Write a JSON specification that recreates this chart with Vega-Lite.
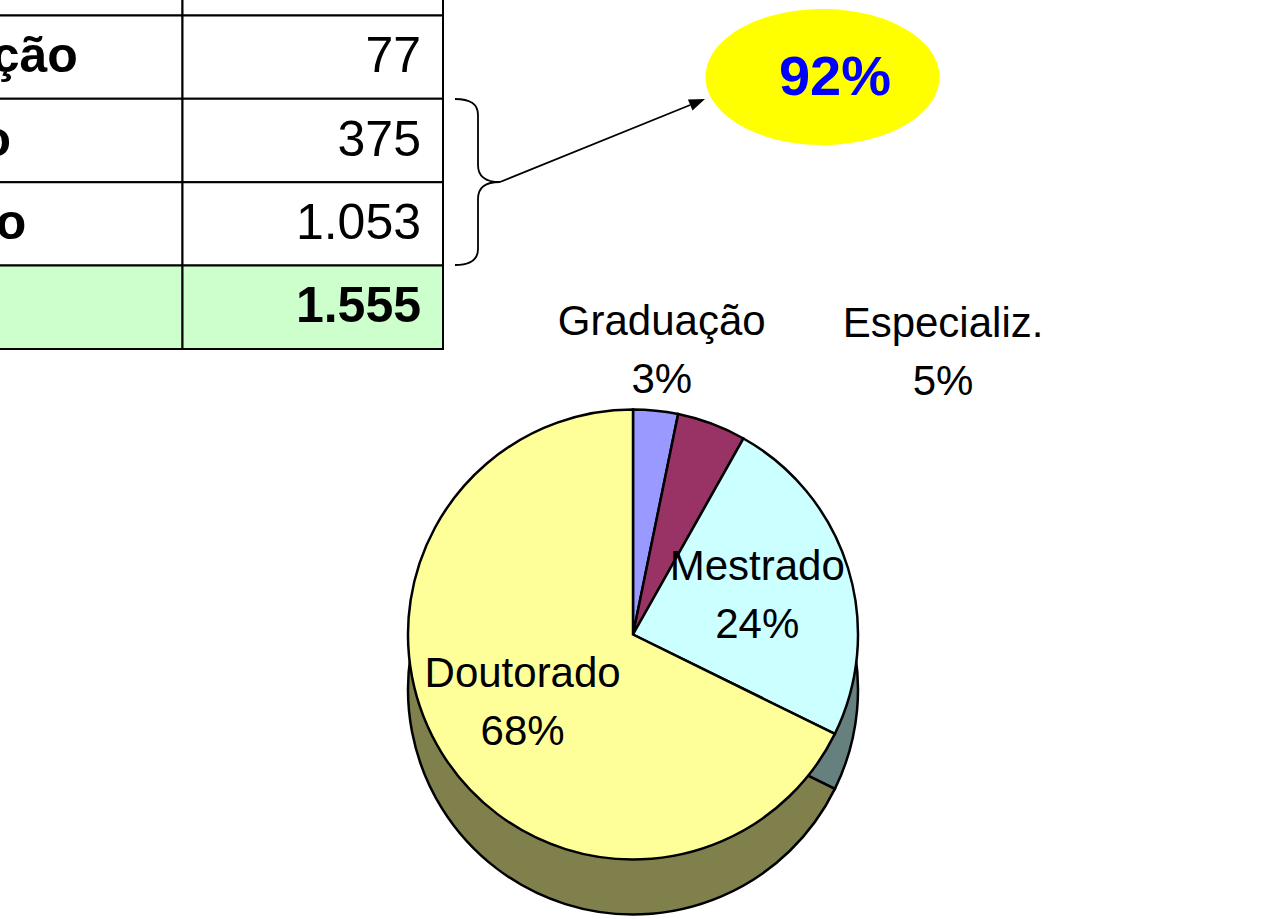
{
  "$schema": "https://vega.github.io/schema/vega-lite/v6.json",
  "padding": 0,
  "spacing": 0,
  "bounds": "flush",
  "config": {
    "view": {"stroke": null},
    "font": "Liberation Sans",
    "locale": {"number": {"decimal": ",", "thousands": ".", "grouping": [3], "currency": ["R$ ", ""]}}
  },
  "datasets": {
    "niveis": [
      {"nivel": "Graduação", "rotulo": "Graduação", "n": 50, "pct": 0.03},
      {"nivel": "Especialização", "rotulo": "Especializ.", "n": 77, "pct": 0.05},
      {"nivel": "Mestrado", "rotulo": "Mestrado", "n": 375, "pct": 0.24},
      {"nivel": "Doutorado", "rotulo": "Doutorado", "n": 1053, "pct": 0.68},
      {"nivel": "Total", "rotulo": "Total", "n": 1555, "pct": 1}
    ],
    "destaque": [{"texto": "92%"}]
  },
  "vconcat": [
    {
      "width": 940,
      "height": 350,
      "layer": [
        {
          "data": {"name": "niveis"},
          "encoding": {
            "y": {
              "field": "nivel", "type": "nominal",
              "scale": {"domain": ["Graduação", "Especialização", "Mestrado", "Doutorado", "Total"], "range": [-68, 349], "paddingInner": 0, "paddingOuter": 0},
              "axis": null
            }
          },
          "layer": [
            {
              "mark": {"type": "rect", "stroke": "black", "strokeWidth": 2, "clip": true},
              "encoding": {
                "x": {"datum": "nome", "type": "nominal", "scale": {"domain": ["nome", "valor"], "range": [-78, 443], "paddingInner": 0, "paddingOuter": 0}, "axis": null},
                "fill": {"condition": {"test": "datum.nivel === 'Total'", "value": "#CCFFCC"}, "value": "#FFFFFF"}
              }
            },
            {
              "mark": {"type": "rect", "stroke": "black", "strokeWidth": 2, "clip": true},
              "encoding": {
                "x": {"datum": "valor", "type": "nominal"},
                "fill": {"condition": {"test": "datum.nivel === 'Total'", "value": "#CCFFCC"}, "value": "#FFFFFF"}
              }
            },
            {
              "mark": {"type": "text", "fontSize": 50, "fontWeight": "bold", "align": "center", "baseline": "middle", "dx": -22, "clip": true, "color": "black"},
              "encoding": {
                "x": {"datum": "nome", "type": "nominal", "bandPosition": 0},
                "text": {"field": "nivel", "type": "nominal"}
              }
            },
            {
              "transform": [{"filter": "datum.nivel !== 'Total'"}],
              "mark": {"type": "text", "fontSize": 50, "align": "right", "baseline": "middle", "dx": -22, "clip": true, "color": "black"},
              "encoding": {
                "x": {"datum": "valor", "type": "nominal", "bandPosition": 1},
                "text": {"field": "n", "type": "quantitative", "format": ","}
              }
            },
            {
              "transform": [{"filter": "datum.nivel === 'Total'"}],
              "mark": {"type": "text", "fontSize": 50, "fontWeight": "bold", "align": "right", "baseline": "middle", "dx": -22, "clip": true, "color": "black"},
              "encoding": {
                "x": {"datum": "valor", "type": "nominal", "bandPosition": 1},
                "text": {"field": "n", "type": "quantitative", "format": ","}
              }
            }
          ]
        },
        {
          "data": {"name": "destaque"},
          "mark": {"type": "point", "shape": "M-15,-76 C0,-76 8,-71 8,-60 L8,-10 C8,1 15,7 30,7 C15,7 8,13 8,24 L8,74 C8,85 0,90 -15,90 M30,7 L220.2,-70", "size": 4, "filled": false, "stroke": "black", "strokeWidth": 1.8, "opacity": 1}
        },
        {
          "data": {"name": "destaque"},
          "mark": {"type": "point", "shape": "M235,-76 L222.5,-64.4 L217.9,-75.6 Z", "size": 4, "filled": true, "color": "black", "opacity": 1}
        },
        {
          "data": {"name": "destaque"},
          "mark": {"type": "point", "shape": "M235.5,-98 A117,68 0 1,1 469.5,-98 A117,68 0 1,1 235.5,-98 Z", "size": 4, "filled": true, "color": "#FFFF00", "opacity": 1, "strokeWidth": 0}
        },
        {
          "data": {"name": "destaque"},
          "mark": {"type": "text", "fontSize": 56, "fontWeight": "bold", "color": "#0000FF", "dx": 365, "dy": -97, "baseline": "middle", "align": "center"},
          "encoding": {"text": {"field": "texto", "type": "nominal"}}
        }
      ]
    },
    {
      "width": 1266,
      "height": 569,
      "data": {"name": "niveis"},
      "transform": [{"filter": "datum.nivel !== 'Total'"}],
      "encoding": {
        "theta": {"field": "n", "type": "quantitative", "stack": true},
        "order": {"field": "n", "type": "quantitative", "sort": "ascending"}
      },
      "layer": [
        {
          "mark": {"type": "arc", "radius": 225, "yOffset": 55, "stroke": "black", "strokeWidth": 2.5},
          "encoding": {
            "fill": {"field": "nivel", "type": "nominal", "scale": {"domain": ["Graduação", "Especialização", "Mestrado", "Doutorado"], "range": ["#4D4D80", "#4D1A33", "#668080", "#80804D"]}, "legend": null}
          }
        },
        {
          "mark": {"type": "arc", "radius": 225, "stroke": "black", "strokeWidth": 2.5},
          "encoding": {
            "color": {"field": "nivel", "type": "nominal", "scale": {"domain": ["Graduação", "Especialização", "Mestrado", "Doutorado"], "range": ["#9999FF", "#993366", "#CCFFFF", "#FFFF99"]}, "legend": null}
          }
        },
        {
          "mark": {"type": "text", "radius": 285, "fontSize": 42, "dy": -29, "baseline": "middle", "color": "black"},
          "encoding": {"text": {"condition": {"test": "datum.nivel === 'Graduação'", "field": "rotulo", "type": "nominal"}, "value": ""}}
        },
        {
          "mark": {"type": "text", "radius": 285, "fontSize": 42, "dy": 29, "baseline": "middle", "color": "black"},
          "encoding": {"text": {"condition": {"test": "datum.nivel === 'Graduação'", "field": "pct", "type": "quantitative", "format": ".0%"}, "value": ""}}
        },
        {
          "mark": {"type": "text", "radius": 300, "fontSize": 42, "dx": 205, "dy": -29, "baseline": "middle", "color": "black"},
          "encoding": {"text": {"condition": {"test": "datum.nivel === 'Especialização'", "field": "rotulo", "type": "nominal"}, "value": ""}}
        },
        {
          "mark": {"type": "text", "radius": 300, "fontSize": 42, "dx": 205, "dy": 29, "baseline": "middle", "color": "black"},
          "encoding": {"text": {"condition": {"test": "datum.nivel === 'Especialização'", "field": "pct", "type": "quantitative", "format": ".0%"}, "value": ""}}
        },
        {
          "mark": {"type": "text", "radius": 130, "fontSize": 42, "dy": -29, "baseline": "middle", "color": "black"},
          "encoding": {"text": {"condition": {"test": "datum.n > 100", "field": "rotulo", "type": "nominal"}, "value": ""}}
        },
        {
          "mark": {"type": "text", "radius": 130, "fontSize": 42, "dy": 29, "baseline": "middle", "color": "black"},
          "encoding": {"text": {"condition": {"test": "datum.n > 100", "field": "pct", "type": "quantitative", "format": ".0%"}, "value": ""}}
        }
      ]
    }
  ]
}
